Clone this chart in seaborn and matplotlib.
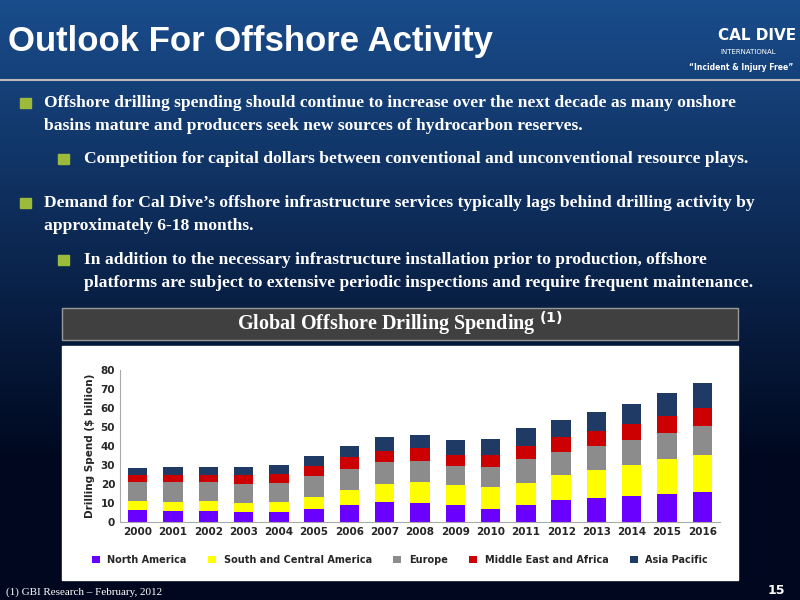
import numpy as np
import pandas as pd
import matplotlib
matplotlib.use("Agg")
import matplotlib.pyplot as plt
from matplotlib.patches import Rectangle
import seaborn as sns

years = [str(y) for y in range(2000, 2017)]
north_america = [6.5, 6, 6, 5.5, 5.5, 7, 9, 10.5, 10, 9, 7, 9, 11.5, 12.5, 13.5, 15, 16]
south_central = [4.5, 4.5, 5, 4.5, 5, 6, 8, 9.5, 11, 10.5, 11.5, 11.5, 13.5, 15, 16.5, 18, 19.5]
europe = [10, 10.5, 10, 10, 10, 11, 11, 11.5, 11, 10, 10.5, 12.5, 12, 12.5, 13, 14, 15]
middle_east_africa = [4, 4, 4, 5, 5, 5.5, 6, 6, 7, 6, 6.5, 7, 7.5, 8, 8.5, 9, 9.5]
asia_pacific = [3.5, 4, 4, 4, 4.5, 5, 6, 7, 7, 7.5, 8, 9.5, 9, 10, 10.5, 12, 13]
series_names = ["North America", "South and Central America", "Europe", "Middle East and Africa", "Asia Pacific"]
colors = ["#6A00FF", "#FFFF00", "#8C8C8C", "#CC0000", "#1F3A64"]

sns.set_style("white")
fig = plt.figure(figsize=(8, 6), dpi=100)
W, H = 800, 600

bg = fig.add_axes([0, 0, 1, 1])
grad = np.linspace(0, 1, 300)[:, None]
top = np.array([0.10, 0.30, 0.55]); bot = np.array([0.0, 0.03, 0.12])
img = top + (bot - top) * np.clip(grad * 1.3, 0, 1)[:, :, None]
img = np.repeat(img, 10, axis=1)
bg.imshow(img, aspect="auto", extent=[0, 1, 0, 1])
bg.set_xlim(0, 1); bg.set_ylim(0, 1); bg.axis("off")

def fx(px): return px / W
def fy(py): return 1 - py / H

bg.plot([0, 1], [fy(80), fy(80)], color="#BBBBBB", lw=1.5)
fig.text(fx(8), fy(42), "Outlook For Offshore Activity", color="white", fontsize=25,
         fontweight="bold", family="Liberation Sans", va="center")
fig.text(fx(793), fy(68), "\u201cIncident & Injury Free\u201d", color="white", fontsize=5.5,
         fontweight="bold", ha="right", va="center")
fig.text(fx(718), fy(36), "CAL DIVE", color="white", fontsize=11, fontweight="bold", va="center")
fig.text(fx(720), fy(52), "INTERNATIONAL", color="white", fontsize=5, va="center")

serif = "Liberation Serif"
bullets = [
    (26, 44, 103, "Offshore drilling spending should continue to increase over the next decade as many onshore"),
    (None, 44, 126, "basins mature and producers seek new sources of hydrocarbon reserves."),
    (64, 84, 159, "Competition for capital dollars between conventional and unconventional resource plays."),
    (26, 44, 203, "Demand for Cal Dive\u2019s offshore infrastructure services typically lags behind drilling activity by"),
    (None, 44, 226, "approximately 6-18 months."),
    (64, 84, 260, "In addition to the necessary infrastructure installation prior to production, offshore"),
    (None, 84, 283, "platforms are subject to extensive periodic inspections and require frequent maintenance."),
]
for bx, tx, ty, t in bullets:
    if bx is not None:
        bg.add_patch(Rectangle((fx(bx - 6), fy(ty + 5)), 11 / W, 10 / H, color="#9DBB3A"))
    fig.text(fx(tx), fy(ty), t, color="white", fontsize=12.6, fontweight="bold", family=serif, va="center")

bg.add_patch(Rectangle((fx(62), fy(340)), 676 / W, 32 / H, color="#404040", ec="#999999"))
fig.text(0.5, fy(324), "Global Offshore Drilling Spending $^{\\mathbf{(1)}}$", color="white", fontsize=14.5,
         fontweight="bold", family=serif, ha="center", va="center")
bg.add_patch(Rectangle((fx(62), fy(580)), 676 / W, 234 / H, color="white"))
fig.text(fx(6), fy(592), "(1) GBI Research \u2013 February, 2012", color="white", fontsize=8, family=serif, va="center")
fig.text(fx(785), fy(590), "15", color="white", fontsize=9, fontweight="bold", ha="right", va="center")

ax = fig.add_axes([fx(120), fy(522), 600 / W, 152 / H])
data = np.array([north_america, south_central, europe, middle_east_africa, asia_pacific])
cum = np.cumsum(data, axis=0)
for i in range(4, -1, -1):
    df = pd.DataFrame({"year": years, "v": cum[i]})
    sns.barplot(data=df, x="year", y="v", color=colors[i], ax=ax, width=0.55,
                edgecolor="none", saturation=1, label=series_names[i])
if ax.get_legend() is not None:
    ax.get_legend().remove()
ax.set_ylim(0, 80)
ax.set_yticks(range(0, 81, 10))
ax.set_xlabel("")
ax.set_ylabel("Drilling Spend ($ billion)", fontsize=7.5, fontweight="bold")
ax.tick_params(labelsize=7.5, length=0)
for lab in ax.get_xticklabels() + ax.get_yticklabels():
    lab.set_fontweight("bold")
for s in ["top", "right"]:
    ax.spines[s].set_visible(False)
ax.spines["left"].set_color("#AAAAAA"); ax.spines["bottom"].set_color("#AAAAAA")
h, l = ax.get_legend_handles_labels()
fig.legend(h[::-1], l[::-1], loc="center", bbox_to_anchor=(fx(400), fy(560)), ncol=5,
           frameon=False, handlelength=0.8, columnspacing=2.2,
           prop={"weight": "bold", "size": 7})
fig.savefig("out.png", dpi=100)
